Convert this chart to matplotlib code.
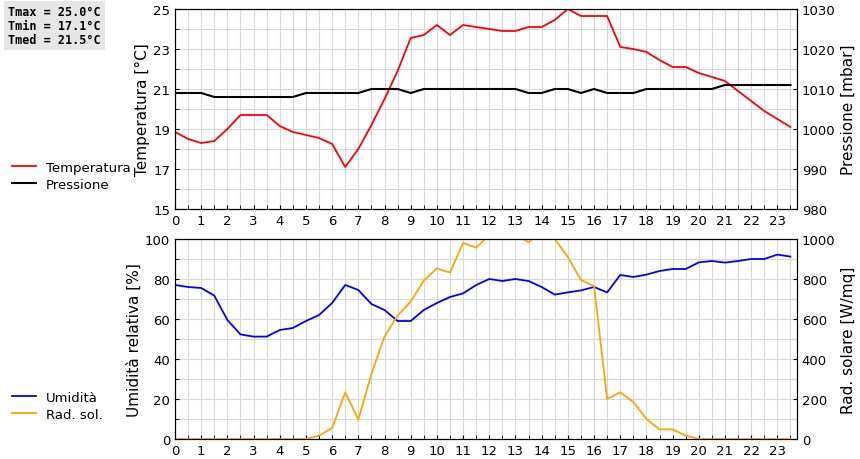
import matplotlib
matplotlib.use("Agg")
import matplotlib.pyplot as plt
import numpy as np

hours = [i * 0.5 for i in range(48)]
temperature = [18.85, 18.5, 18.3, 18.4, 19.0, 19.7, 19.7, 19.7, 19.15, 18.85, 18.7, 18.55,
               18.25, 17.1, 18.0, 19.2, 20.5, 21.9, 23.55, 23.7, 24.2, 23.7, 24.2, 24.1,
               24.0, 23.9, 23.9, 24.1, 24.1, 24.45, 25.0, 24.65, 24.65, 24.65, 23.1, 23.0,
               22.85, 22.45, 22.1, 22.1, 21.8, 21.6, 21.4, 20.9, 20.4, 19.9, 19.5, 19.1]
pressure = [1009, 1009, 1009, 1008, 1008, 1008, 1008, 1008, 1008, 1008, 1009, 1009,
            1009, 1009, 1009, 1010, 1010, 1010, 1009, 1010, 1010, 1010, 1010, 1010,
            1010, 1010, 1010, 1009, 1009, 1010, 1010, 1009, 1010, 1009, 1009, 1009,
            1010, 1010, 1010, 1010, 1010, 1010, 1011, 1011, 1011, 1011, 1011, 1011]
humidity = [77, 76, 75.5, 71.7, 59.5, 52.3, 51.2, 51.2, 54.5, 55.5, 59, 62,
            68, 77, 74.5, 67.5, 64.5, 59, 59, 64.5, 68, 71, 72.8, 77,
            80, 79, 80, 79, 76, 72.2, 73.3, 74.3, 76, 73.3, 82, 81,
            82.2, 84, 85, 85, 88.3, 89, 88.2, 89, 90, 90, 92.2, 91.2]
radiation = [0, 0, 0, 0, 0, 0, 0, 0, 0, 0, 0, 17,
             55, 233, 97, 325, 513, 617, 687, 792, 853, 832, 980, 957,
             1020, 1030, 1020, 985, 1040, 1000, 910, 795, 765, 200, 233, 185,
             100, 48, 48, 17, 0, 0, 0, 0, 0, 0, 0, 0]
info_lines = ["Tmax = 25.0°C", "Tmin = 17.1°C", "Tmed = 21.5°C"]

fig = plt.figure(figsize=(8.6, 4.6), dpi=100)
W, H = 860, 460

def axes_at(x0, y0, x1, y1):
    return fig.add_axes([x0 / W, 1 - y1 / H, (x1 - x0) / W, (y1 - y0) / H])

grid_col = "#d8d8d8"

def style(ax, ylim, yticks, ylabel):
    ax.set_xlim(0, 23.75)
    ax.set_ylim(*ylim)
    ax.set_xticks(range(24))
    ax.set_xticks(np.arange(0.5, 24, 1), minor=True)
    ax.set_yticks(yticks)
    ax.set_yticks(np.arange(ylim[0], ylim[1] + 0.01, (yticks[1] - yticks[0]) / 2), minor=True)
    ax.grid(True, which="both", color=grid_col, lw=0.8)
    ax.set_axisbelow(True)
    ax.tick_params(labelsize=9.5, direction="in", length=3)
    ax.tick_params(which="minor", direction="in", length=3)
    ax.set_ylabel(ylabel, fontsize=11, labelpad=2)

# Top chart
ax1 = axes_at(175, 10, 797, 210)
style(ax1, (15, 25), [15, 17, 19, 21, 23, 25], "Temperatura [°C]")
l1, = ax1.plot(hours, temperature, color="red", lw=1.3)
ax1b = ax1.twinx()
l2, = ax1b.plot(hours, pressure, color="black", lw=1.5)
ax1b.set_ylim(980, 1030)
ax1b.set_yticks(range(980, 1031, 10))
ax1b.tick_params(labelsize=9.5, direction="in", length=3)
ax1b.set_ylabel("Pressione [mbar]", fontsize=11, labelpad=4)

# Bottom chart
ax2 = axes_at(175, 240, 797, 440)
style(ax2, (0, 100), [0, 20, 40, 60, 80, 100], "Umidità relativa [%]")
l3, = ax2.plot(hours, humidity, color="blue", lw=1.3)
ax2b = ax2.twinx()
l4, = ax2b.plot(hours, radiation, color="orange", lw=1.3)
ax2b.set_ylim(0, 1000)
ax2b.set_yticks(range(0, 1001, 200))
ax2b.tick_params(labelsize=9.5, direction="in", length=3)
ax2b.set_ylabel("Rad. solare [W/mq]", fontsize=11, labelpad=4)

fig.legend([l1, l2], ["Temperatura", "Pressione"], loc="upper left",
           bbox_to_anchor=(0 / W, 1 - 150 / H), frameon=False, fontsize=9.5,
           handlelength=1.8, labelspacing=0.3)
fig.legend([l3, l4], ["Umidità", "Rad. sol."], loc="upper left",
           bbox_to_anchor=(0 / W, 1 - 380 / H), frameon=False, fontsize=9.5,
           handlelength=1.8, labelspacing=0.3)

fig.text(8 / W, 1 - 6 / H, "\n".join(info_lines), family="DejaVu Sans Mono",
         fontsize=8.5, fontweight="bold", va="top", ha="left", linespacing=1.1,
         bbox=dict(facecolor="#e6e6e6", edgecolor="none", pad=3))

fig.savefig("out.png", dpi=100)
